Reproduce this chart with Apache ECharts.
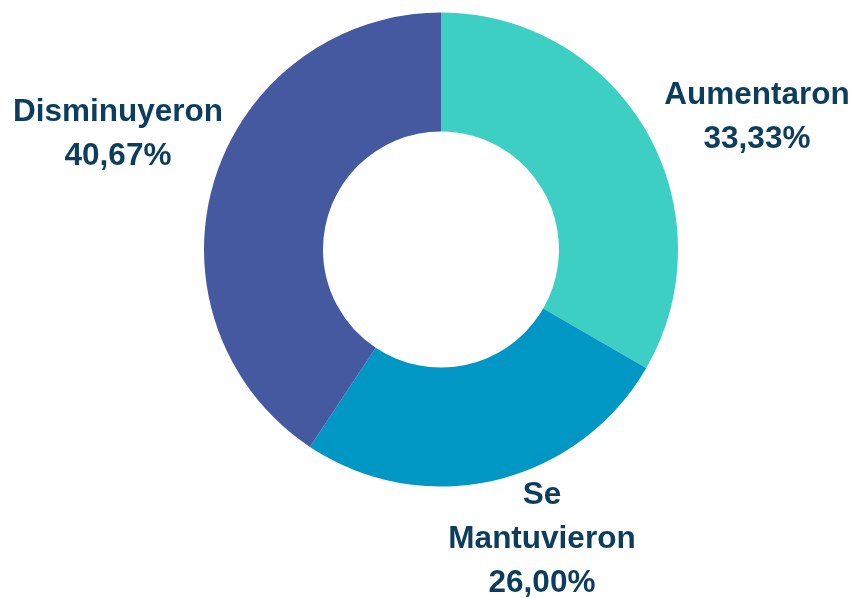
<!DOCTYPE html>
<html>
<head>
<meta charset="utf-8">
<script src="https://cdn.jsdelivr.net/npm/echarts@6/dist/echarts.min.js"></script>
<style>
  html, body { margin: 0; padding: 0; background: #fff; }
  #chart { width: 864px; height: 598px; }
</style>
</head>
<body>
<div id="chart"></div>
<script>
const categories = ['Aumentaron', 'Se Mantuvieron', 'Disminuyeron']
const values = [33.33, 26.00, 40.67]
const colors = ['#3ecfc4', '#0097c4', '#4459a0']

// label centres (layout only)
const labelPos = [[757, 117], [542, 539], [118, 134]]

const chart = echarts.init(document.getElementById('chart'))
chart.setOption({
  animation: false,
  series: [
    {
      type: 'pie',
      center: [441, 249.5],
      radius: [118, 237],
      startAngle: 90,
      clockwise: true,
      label: {
        show: true,
        position: 'outside',
        color: '#0c3d5c',
        fontFamily: 'Liberation Sans, Arial, sans-serif',
        fontWeight: 'bold',
        fontSize: 31.5,
        lineHeight: 44,
        align: 'center',
        overflow: 'none',
        formatter: function (p) {
          return p.name.replace(' ', '\n') + '\n' + p.percent.toFixed(2).replace('.', ',') + '%'
        }
      },
      labelLine: { show: false },
      labelLayout: function (p) {
        const pos = labelPos[p.dataIndex]
        return { x: pos[0], y: pos[1], align: 'center', verticalAlign: 'middle', width: 300 }
      },
      data: categories.map((name, i) => ({
        name: name,
        value: values[i],
        itemStyle: { color: colors[i] }
      }))
    }
  ]
})
</script>
</body>
</html>
